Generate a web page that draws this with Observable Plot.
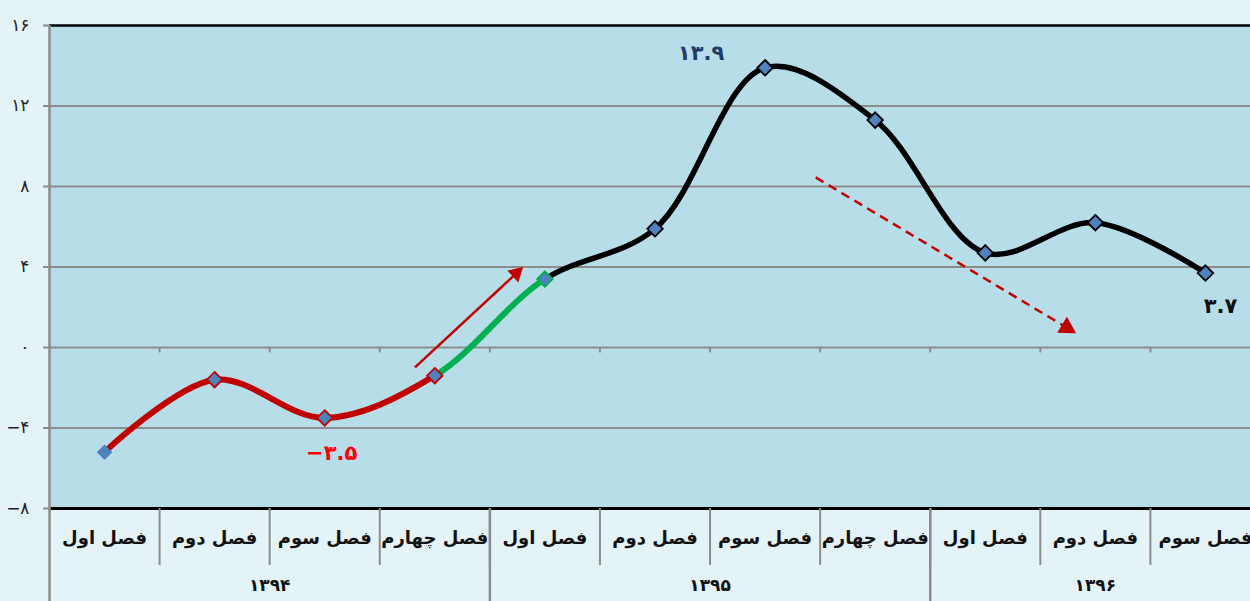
<!DOCTYPE html>
<html><head><meta charset="utf-8">
<script src="https://cdn.jsdelivr.net/npm/d3@7"></script>
<script src="https://cdn.jsdelivr.net/npm/@observablehq/plot@0.6"></script>
<style>
html,body{margin:0;padding:0;background:#e4f3f7;overflow:hidden;}
#chart svg{display:block;}
</style></head><body><div id="chart"></div>
<script>
// ---- data ----
const quarterLabels = ["فصل اول","فصل دوم","فصل سوم","فصل چهارم","فصل اول","فصل دوم","فصل سوم","فصل چهارم","فصل اول","فصل دوم","فصل سوم"];
const yearLabels = ["۱۳۹۴","۱۳۹۵","۱۳۹۶"];
const yearQuarterCounts = [4, 4, 3];
const growth = [-5.2, -1.6, -3.5, -1.4, 3.4, 5.9, 13.9, 11.3, 4.7, 6.2, 3.7];
const yTicks = [-8, -4, 0, 4, 8, 12, 16];
const valueLabelIdx = {low: 2, peak: 6, last: 10};
const upArrow = {x1: 2.82, y1: -0.99, x2: 3.74, y2: 3.68};
const downArrow = {x1: 6.46, y1: 8.45, x2: 8.74, y2: 0.99};

// ---- helpers ----
const fa = n => String(n).replace(/\d/g, d => "۰۱۲۳۴۵۶۷۸۹"[d]).replace("-", "−");
const points = growth.map((v, i) => ({i, v}));
const boundaries = d3.range(quarterLabels.length - 1).map(i => i + 0.5);
let acc = 0;
const yearStarts = [], yearCenters = [];
yearQuarterCounts.forEach(c => { yearStarts.push(acc - 0.5); yearCenters.push(acc + (c - 1) / 2); acc += c; });
const yearByCenter = new Map(yearCenters.map((c, k) => [c, yearLabels[k]]));

const W = 1260, H = 601, mL = 49, mT = 25, mB = 93;
const xs = d3.scaleLinear([-0.5, quarterLabels.length - 0.5], [mL, W]);
const ys = d3.scaleLinear([-8, 16], [H - mB, mT]);
const angle = a => Math.atan2(xs(a.x2) - xs(a.x1), -(ys(a.y2) - ys(a.y1))) * 180 / Math.PI;

// smooth curve through all points, drawing only segments [a, b)
function segmentCurve(a, b) {
  return context => {
    let j = 0, last = null;
    const start = () => { if (j === a) context.moveTo(last[0], last[1]); };
    const proxy = {
      moveTo(x, y) { last = [x, y]; j = 0; },
      lineTo(x, y) { if (j >= a && j < b) { start(); context.lineTo(x, y); } last = [x, y]; j++; },
      bezierCurveTo(x1, y1, x2, y2, x, y) { if (j >= a && j < b) { start(); context.bezierCurveTo(x1, y1, x2, y2, x, y); } last = [x, y]; j++; },
      closePath() {}
    };
    return d3.curveCatmullRom(proxy);
  };
}

const RED = "#c00000", GREEN = "#00b050", BLACK = "#000", GRID = "#8c8c8c";
const markerStroke = i => i === 0 ? "none" : i <= 3 ? RED : i === 4 ? GREEN : BLACK;

const chart = Plot.plot({
  width: W, height: H,
  marginLeft: mL, marginRight: 0, marginTop: mT, marginBottom: mB,
  style: {background: "transparent", maxWidth: "none", fontFamily: "'DejaVu Sans', sans-serif", overflow: "visible"},
  x: {domain: [-0.5, quarterLabels.length - 0.5], label: null},
  y: {domain: [-8, 16], label: null},
  color: {type: "identity"},
  marks: [
    Plot.frame({fill: "#b7dee8", stroke: null}),
    Plot.gridY({ticks: yTicks.filter(t => t > -8 && t < 16), stroke: GRID, strokeOpacity: 1, strokeWidth: 2}),
    Plot.ruleX(boundaries, {x: d => d, y1: 0, y2: -0.27, stroke: GRID, strokeWidth: 2}),
    Plot.ruleY([16], {stroke: "#000", strokeWidth: 2.5}),
    Plot.ruleY([-8], {stroke: "#000", strokeWidth: 3}),
    Plot.ruleX([-0.5], {stroke: GRID, strokeWidth: 2.5}),
    Plot.axisY({ticks: yTicks, tickFormat: fa, tickSize: 6, tickPadding: 14, stroke: GRID, strokeWidth: 2, fill: "#222", fontSize: 17}),
    Plot.axisX({ticks: boundaries, tickSize: 57, tickFormat: () => "", stroke: GRID, strokeWidth: 2}),
    Plot.axisX({ticks: yearStarts, tickSize: 93, tickFormat: () => "", stroke: GRID, strokeWidth: 2.5}),
    Plot.axisX({ticks: d3.range(quarterLabels.length), tickFormat: i => quarterLabels[i], tickSize: 0, tickPadding: 23, fontSize: 18, fontWeight: "bold", fill: "#111"}),
    Plot.axisX({ticks: yearCenters, tickFormat: c => yearByCenter.get(c), tickSize: 0, tickPadding: 70, fontSize: 17, fontWeight: "bold", fill: "#111"}),
    // trend arrows
    Plot.link([upArrow], {x1: "x1", y1: "y1", x2: "x2", y2: "y2", stroke: RED, strokeWidth: 2.5}),
    Plot.dot([upArrow], {x: "x2", y: "y2", symbol: "triangle", r: 6, rotate: angle, fill: RED, stroke: "none"}),
    Plot.link([downArrow], {x1: "x1", y1: "y1", x2: "x2", y2: "y2", stroke: RED, strokeWidth: 2.5, strokeDasharray: "9,6"}),
    Plot.dot([downArrow], {x: "x2", y: "y2", symbol: "triangle", r: 7, rotate: angle, fill: RED, stroke: "none"}),
    // line segments (one smooth curve, coloured by section)
    Plot.line(points, {x: "i", y: "v", stroke: RED, strokeWidth: 6, curve: segmentCurve(0, 3)}),
    Plot.line(points, {x: "i", y: "v", stroke: GREEN, strokeWidth: 6, curve: segmentCurve(3, 4)}),
    Plot.line(points, {x: "i", y: "v", stroke: BLACK, strokeWidth: 5.5, curve: segmentCurve(4, growth.length - 1)}),
    Plot.dot(points, {x: "i", y: "v", symbol: "diamond2", r: 7, fill: "#4f81bd", stroke: d => markerStroke(d.i), strokeWidth: 1.8}),
    // value labels
    Plot.text([points[valueLabelIdx.low]], {x: "i", y: "v", text: d => fa(d.v), dx: 7, dy: 35, fill: "#ff0000", fontSize: 21, fontWeight: "bold"}),
    Plot.text([points[valueLabelIdx.peak]], {x: "i", y: "v", text: d => fa(d.v), dx: -64, dy: -14, fill: "#1f3a6e", fontSize: 21, fontWeight: "bold"}),
    Plot.text([points[valueLabelIdx.last]], {x: "i", y: "v", text: d => fa(d.v), dx: 15, dy: 33, fill: "#111", fontSize: 21, fontWeight: "bold"})
  ]
});
document.getElementById("chart").append(chart);
</script></body></html>
